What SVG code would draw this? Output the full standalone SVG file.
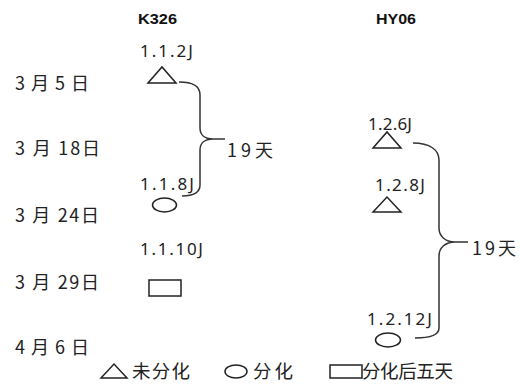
<svg xmlns="http://www.w3.org/2000/svg" width="525" height="392" viewBox="0 0 525 392">
<style>
.t{font-family:"Noto Sans CJK SC","Noto Sans",sans-serif;fill:#222;}
.d{font-size:18px;}
.n{font-family:"Noto Sans","Liberation Sans",sans-serif;font-size:17px;fill:#222;}
.h{font-family:"Liberation Sans",sans-serif;font-size:15px;font-weight:bold;fill:#111;}
.s{fill:none;stroke:#222;stroke-width:1.5;}
.c{fill:none;stroke:#333;stroke-width:1.5;}
.lg{font-size:18.5px;}
</style>
<rect width="525" height="392" fill="#fff"/>
<g id="headers">
<text class="h" x="138" y="24" textLength="39" lengthAdjust="spacingAndGlyphs">K326</text>
<text class="h" x="376" y="24" textLength="40" lengthAdjust="spacingAndGlyphs">HY06</text>
</g>
<g id="dates">
<text class="t d" x="15" y="90" textLength="74" lengthAdjust="spacing">3 月 5 日</text>
<text class="t d" x="15" y="155" textLength="85" lengthAdjust="spacing">3 月 18日</text>
<text class="t d" x="15" y="222" textLength="84" lengthAdjust="spacing">3 月 24日</text>
<text class="t d" x="15" y="289" textLength="84" lengthAdjust="spacing">3 月 29日</text>
<text class="t d" x="15" y="354" textLength="74" lengthAdjust="spacing">4 月 6 日</text>
</g>
<g id="k326-112">
<text class="n" x="140" y="57" textLength="53" lengthAdjust="spacing">1.1.2J</text>
<polygon class="s" points="148,83 162,67 176,83"/>
</g>
<g id="k326-118">
<text class="n" x="140" y="190" textLength="54" lengthAdjust="spacing">1.1.8J</text>
<ellipse class="s" cx="164.5" cy="205" rx="12" ry="7"/>
</g>
<g id="k326-1110">
<text class="n" x="140" y="255" textLength="63" lengthAdjust="spacing">1.1.10J</text>
<rect class="s" x="149" y="280" width="32" height="16"/>
</g>
<g id="hy06-126">
<text class="n" x="368" y="130" textLength="44" lengthAdjust="spacing">1.2.6J</text>
<polygon class="s" points="373,148 387,132 401,148"/>
</g>
<g id="hy06-128">
<text class="n" x="375" y="191" textLength="50" lengthAdjust="spacing">1.2.8J</text>
<polygon class="s" points="373,212 387,197 401,212"/>
</g>
<g id="hy06-1212">
<text class="n" x="367" y="325" textLength="65" lengthAdjust="spacing">1.2.12J</text>
<ellipse class="s" cx="388" cy="340" rx="12.5" ry="7"/>
</g>
<g id="connectors">
<path class="c" d="M179,82 C192,82 200,85 200,95 L200,128 C200,135 205,139 213,139 L225,139 M213,139 C205,139 200,143 200,150 L200,185 C200,193 192,196 182,196"/>
<path class="c" d="M413,143 C430,143 439,150 439,160 L439,228 C439,236 445,242 455,242 L468,242 M455,242 C445,242 439,248 439,256 L439,328 C439,335 430,338 415,338"/>
</g>
<g id="span-labels">
<text class="t d" x="227" y="157" textLength="46" lengthAdjust="spacing">19天</text>
<text class="t d" x="472" y="255" textLength="44" lengthAdjust="spacing">19天</text>
</g>
<g id="legend">
<polygon class="s" points="101,378 114,364 127,378"/>
<text class="t lg" x="132" y="378" textLength="58" lengthAdjust="spacing">未分化</text>
<ellipse class="s" cx="236" cy="371.5" rx="11" ry="6.5"/>
<text class="t lg" x="253" y="378" textLength="40" lengthAdjust="spacing">分化</text>
<rect class="s" x="330" y="365" width="32" height="13"/>
<text class="t lg" x="362" y="378" textLength="91" lengthAdjust="spacing">分化后五天</text>
</g>
</svg>
